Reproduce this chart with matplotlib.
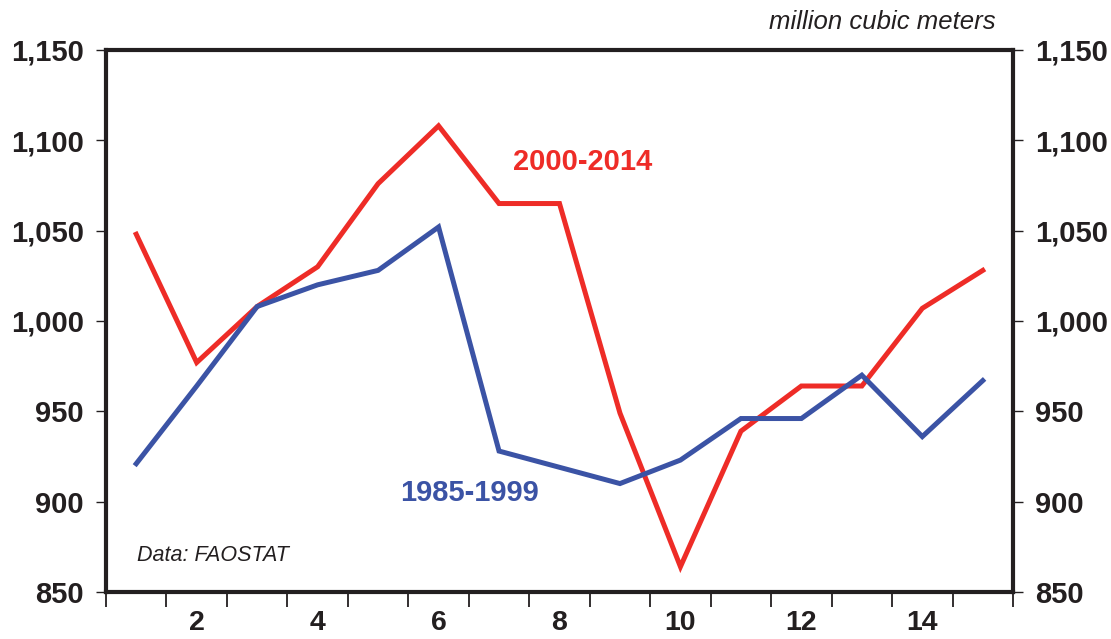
import matplotlib.pyplot as plt

# period index 1..15
periods = list(range(1, 16))
series_2000_2014 = [1048, 977, 1008, 1030, 1076, 1108, 1065, 1065, 949, 864, 939, 964, 964, 1007, 1028]
series_1985_1999 = [921, 964, 1008, 1020, 1028, 1052, 928, 919, 910, 923, 946, 946, 970, 936, 967]

y_ticks = [850, 900, 950, 1000, 1050, 1100, 1150]
x_labels = [2, 4, 6, 8, 10, 12, 14]

RED = '#EE2C27'
BLUE = '#3B53A5'
INK = '#231F20'

plt.rcParams['font.family'] = ['Liberation Sans', 'DejaVu Sans']

fig = plt.figure(figsize=(11.11, 6.39), dpi=100)
ax = fig.add_axes([0.0954, 0.0736, 0.8164, 0.8482])

ax.plot(periods, series_2000_2014, color=RED, lw=3.6, solid_joinstyle='miter')
ax.plot(periods, series_1985_1999, color=BLUE, lw=3.6, solid_joinstyle='miter')

ax.set_xlim(0.5, 15.5)
ax.set_ylim(850, 1150)

for s in ax.spines.values():
    s.set_linewidth(3.0)
    s.set_color(INK)

# y axis: ticks and labels on both sides
ax.set_yticks(y_ticks)
ax.set_yticklabels(['{:,}'.format(v) for v in y_ticks])
ax.tick_params(axis='y', which='major', left=True, right=True, labelleft=True, labelright=True,
               direction='out', length=7, width=1, color=INK, pad=9,
               labelsize=21, labelcolor=INK)
for lab in ax.get_yticklabels():
    lab.set_fontweight('bold')

# x axis: marks between periods, labels on even periods
ax.set_xticks(x_labels)
ax.set_xticklabels([str(v) for v in x_labels])
ax.set_xticks([p - 0.5 for p in periods] + [15.5], minor=True)
ax.tick_params(axis='x', which='major', length=0, pad=13, labelsize=20.5, labelcolor=INK)
ax.tick_params(axis='x', which='minor', direction='out', length=11, width=1.3, color=INK)
for lab in ax.get_xticklabels():
    lab.set_fontweight('bold')

ax.text(0.526, 0.793, '2000-2014', transform=ax.transAxes, color=RED, fontsize=21,
        fontweight='bold', ha='center', va='center')
ax.text(0.401, 0.183, '1985-1999', transform=ax.transAxes, color=BLUE, fontsize=21,
        fontweight='bold', ha='center', va='center')
ax.text(0.034, 0.068, 'Data: FAOSTAT', transform=ax.transAxes, color=INK, fontsize=15.5,
        fontstyle='italic', ha='left', va='center')
fig.text(0.896, 0.965, 'million cubic meters', color=INK, fontsize=18.5,
         fontstyle='italic', ha='right', va='center')

fig.savefig('out.png', dpi=100)
